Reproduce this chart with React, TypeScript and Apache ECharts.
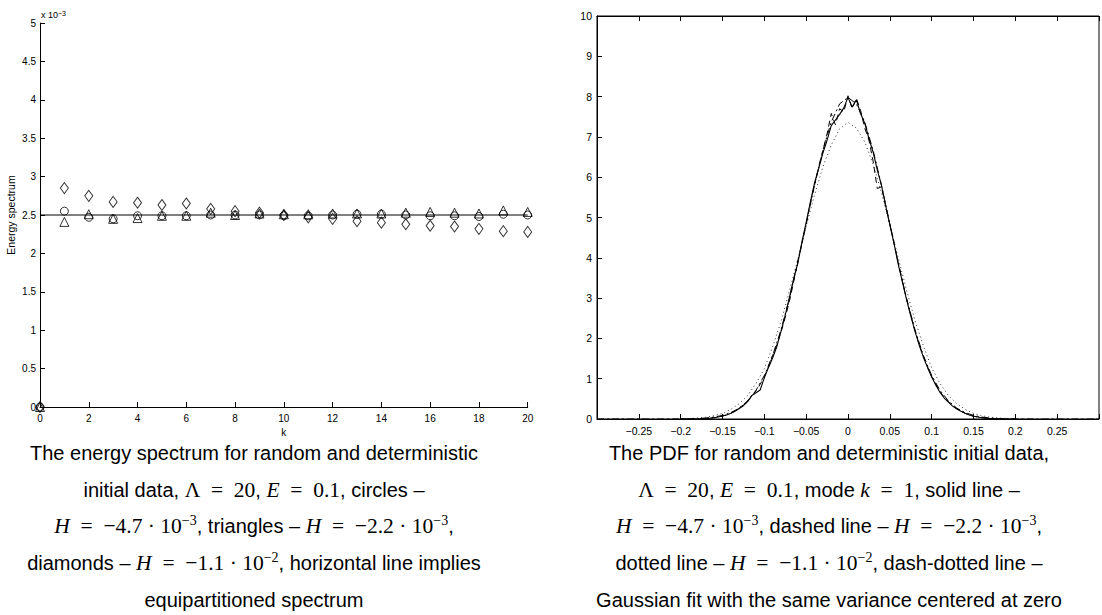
import React, { useEffect, useRef } from "react";
import * as echarts from "echarts";

// ---------- Left chart: energy spectrum (values in units of 1e-3) ----------
const kValues = [0, 1, 2, 3, 4, 5, 6, 7, 8, 9, 10, 11, 12, 13, 14, 15, 16, 17, 18, 19, 20];
const circles = [0, 2.55, 2.47, 2.45, 2.49, 2.49, 2.49, 2.5, 2.5, 2.5, 2.49, 2.49, 2.5, 2.51, 2.51, 2.5, 2.49, 2.49, 2.48, 2.51, 2.5];
const triangles = [0, 2.41, 2.51, 2.45, 2.46, 2.49, 2.49, 2.53, 2.5, 2.52, 2.51, 2.51, 2.52, 2.52, 2.52, 2.53, 2.54, 2.53, 2.52, 2.56, 2.54];
const diamonds = [0, 2.85, 2.75, 2.67, 2.66, 2.63, 2.65, 2.58, 2.55, 2.53, 2.5, 2.47, 2.45, 2.42, 2.4, 2.38, 2.36, 2.35, 2.32, 2.29, 2.28];
const equipartitionLevel = 2.5;
const equipartitionK = [0, 20];

// ---------- Right chart: PDF of mode k = 1 ----------
// fine grid: -0.2 .. 0.2 step 0.005 (81 points)
const solidPdf = [
  0, 0, 0, 0, 0, 0.01, 0.01, 0.02, 0.03, 0.05, 0.08, 0.1, 0.14, 0.19, 0.26, 0.33, 0.43, 0.58, 0.65, 0.72,
  1.02, 1.28, 1.52, 1.8, 2.18, 2.58, 3.02, 3.48, 3.86, 4.4, 4.88, 5.38, 5.86, 6.22, 6.6, 6.92, 7.28, 7.42, 7.56, 7.72,
  7.98,
  7.74, 7.92, 7.58, 7.34, 6.96, 6.62, 6.18, 5.8, 5.3, 4.82, 4.36, 3.84, 3.4, 2.96, 2.56, 2.18, 1.84, 1.54, 1.28, 1.04,
  0.84, 0.66, 0.52, 0.42, 0.32, 0.25, 0.19, 0.14, 0.1, 0.07, 0.05, 0.03, 0.02, 0.01, 0.01, 0, 0, 0, 0, 0,
];
const dashedPdf = [
  0, 0, 0, 0, 0, 0, 0.01, 0.02, 0.03, 0.05, 0.07, 0.1, 0.14, 0.2, 0.27, 0.35, 0.45, 0.56, 0.7, 0.86,
  1.05, 1.3, 1.58, 1.85, 2.16, 2.52, 2.92, 3.4, 3.92, 4.36, 4.84, 5.36, 5.8, 6.26, 6.66, 7.08, 7.58, 7.3, 7.7, 7.62,
  8.02,
  7.7, 7.96, 7.66, 7.22, 6.92, 6.4, 5.72, 5.76, 5.28, 4.84, 4.38, 3.88, 3.42, 2.98, 2.58, 2.2, 1.86, 1.56, 1.3, 1.06,
  0.86, 0.68, 0.54, 0.43, 0.33, 0.26, 0.19, 0.14, 0.1, 0.07, 0.05, 0.03, 0.02, 0.01, 0.01, 0, 0, 0, 0, 0,
];
// coarse grid: -0.3 .. 0.3 step 0.01 (61 points)
const dottedPdf = [
  0, 0, 0, 0, 0, 0, 0, 0, 0,
  0.003, 0.006, 0.012, 0.024, 0.045, 0.08, 0.14, 0.24, 0.38, 0.58, 0.88, 1.25, 1.8, 2.42, 3.18, 3.96, 4.78, 5.56, 6.26, 6.8, 7.2,
  7.36,
  7.22, 6.88, 6.32, 5.62, 4.82, 4.0, 3.2, 2.45, 1.82, 1.27, 0.88, 0.58, 0.38, 0.24, 0.14, 0.08, 0.045, 0.024, 0.012, 0.006, 0.003,
  0, 0, 0, 0, 0, 0, 0, 0, 0,
];
const gaussianFit = [
  0, 0, 0, 0, 0, 0, 0, 0, 0,
  0.001, 0.003, 0.006, 0.012, 0.025, 0.048, 0.089, 0.16, 0.27, 0.45, 0.71, 1.08, 1.58, 2.22, 2.99, 3.88, 4.84, 5.8, 6.67, 7.37, 7.82,
  7.98,
  7.82, 7.37, 6.67, 5.8, 4.84, 3.88, 2.99, 2.22, 1.58, 1.08, 0.71, 0.45, 0.27, 0.16, 0.089, 0.048, 0.025, 0.012, 0.006, 0.003, 0.001,
  0, 0, 0, 0, 0, 0, 0, 0, 0,
];
const fineGrid = { start: -0.2, step: 0.005 };
const coarseGrid = { start: -0.3, step: 0.01 };

// ---------- Captions ----------
const EQ = "\u2002=\u2002";
const leftCaption = [
  "The energy spectrum for random and deterministic",
  `initial data, {m|Λ${EQ}20}, {i|E}{m|${EQ}0.1}, circles –`,
  `{i|H}{m|${EQ}−4.7 · 10}{s|−3}, triangles – {i|H}{m|${EQ}−2.2 · 10}{s|−3},`,
  `diamonds – {i|H}{m|${EQ}−1.1 · 10}{s|−2}, horizontal line implies`,
  "equipartitioned spectrum",
];
const rightCaption = [
  "The PDF for random and deterministic initial data,",
  `{m|Λ${EQ}20}, {i|E}{m|${EQ}0.1}, mode {i|k}{m|${EQ}1}, solid line –`,
  `{i|H}{m|${EQ}−4.7 · 10}{s|−3}, dashed line – {i|H}{m|${EQ}−2.2 · 10}{s|−3},`,
  `dotted line – {i|H}{m|${EQ}−1.1 · 10}{s|−2}, dash-dotted line –`,
  "Gaussian fit with the same variance centered at zero",
];

const toPairs = (ys: number[], g: { start: number; step: number }) =>
  ys.map((y, i) => [+(g.start + i * g.step).toFixed(4), y]);

const SANS = "'Liberation Sans', Arial, sans-serif";
const SERIF = "'Liberation Serif', 'DejaVu Serif', serif";

export default function App() {
  const ref = useRef<HTMLDivElement>(null);
  useEffect(() => {
    if (!ref.current) return;
    const chart = echarts.init(ref.current, undefined, { renderer: "svg" });

    const axisLine = { show: true, onZero: false, lineStyle: { color: "#000", width: 1 } };
    const tick = { show: true, inside: true, length: 5, lineStyle: { color: "#000" } };
    const hollow = (symbol: string, size: any) => ({
      type: "scatter",
      xAxisIndex: 0,
      yAxisIndex: 0,
      symbol,
      symbolSize: size,
      itemStyle: { color: "rgba(0,0,0,0)", borderColor: "#000", borderWidth: 1 },
      z: 3,
    });

    const rich = {
      m: { fontFamily: SERIF, fontSize: 21.5, lineHeight: 26, fill: "#000" },
      i: { fontFamily: SERIF, fontStyle: "italic", fontSize: 21.5, lineHeight: 26, fill: "#000" },
      s: { fontFamily: SERIF, fontSize: 14, lineHeight: 26, verticalAlign: "top", fill: "#000" },
    };
    const captionLines = (lines: string[], cx: number) =>
      lines.map((t, j) => ({
        type: "text",
        x: cx,
        y: 453 + j * 36.7,
        style: {
          text: t,
          rich,
          fontFamily: SANS,
          fontSize: 20,
          fill: "#000",
          textAlign: "center",
          textVerticalAlign: "middle",
        },
      }));

    chart.setOption({
      animation: false,
      backgroundColor: "#fff",
      grid: [
        { left: 40, top: 23, width: 487.7, height: 384 },
        { left: 597, top: 16, width: 510, height: 403, show: true, borderColor: "#000", borderWidth: 1 },
      ],
      xAxis: [
        {
          type: "value", gridIndex: 0, min: 0, max: 20, interval: 2,
          axisLine, axisTick: tick, splitLine: { show: false },
          axisLabel: { fontSize: 10, color: "#000", fontFamily: SANS, margin: 6 },
          name: "k", nameLocation: "middle", nameGap: 19,
          nameTextStyle: { fontSize: 10, color: "#000", fontFamily: SANS },
        },
        {
          type: "value", gridIndex: 1, min: -0.3, max: 0.3, interval: 0.05,
          axisLine, axisTick: tick, splitLine: { show: false },
          axisLabel: {
            fontSize: 10.5, color: "#000", fontFamily: SANS, margin: 6,
            formatter: (v: number) =>
              Math.abs(Math.abs(v) - 0.3) < 1e-9 ? "" : String(+v.toFixed(2)).replace("-", "−"),
          },
        },
        {
          type: "value", gridIndex: 1, min: -0.3, max: 0.3, interval: 0.05, position: "top",
          axisLine, axisTick: tick, splitLine: { show: false }, axisLabel: { show: false },
        },
      ],
      yAxis: [
        {
          type: "value", gridIndex: 0, min: 0, max: 5, interval: 0.5,
          axisLine, axisTick: tick, splitLine: { show: false },
          axisLabel: { fontSize: 10, color: "#000", fontFamily: SANS, margin: 4 },
          name: "Energy spectrum", nameLocation: "middle", nameGap: 24, nameRotate: 90,
          nameTextStyle: { fontSize: 10.5, color: "#000", fontFamily: SANS },
        },
        {
          type: "value", gridIndex: 1, min: 0, max: 10, interval: 1,
          axisLine, axisTick: tick, splitLine: { show: false },
          axisLabel: { fontSize: 10.5, color: "#000", fontFamily: SANS, margin: 5 },
        },
      ],
      series: [
        {
          type: "line", xAxisIndex: 0, yAxisIndex: 0, symbol: "none",
          data: equipartitionK.map((k) => [k, equipartitionLevel]),
          lineStyle: { color: "#000", width: 1 }, z: 2,
        },
        { ...hollow("circle", 8), data: kValues.map((k, i) => [k, circles[i]]) },
        { ...hollow("triangle", 9), data: kValues.map((k, i) => [k, triangles[i]]) },
        { ...hollow("diamond", [8, 11]), data: kValues.map((k, i) => [k, diamonds[i]]) },
        {
          type: "line", xAxisIndex: 1, yAxisIndex: 1, symbol: "none",
          data: toPairs(gaussianFit, coarseGrid),
          lineStyle: { color: "#000", width: 1, type: [7, 3, 2, 3] },
        },
        {
          type: "line", xAxisIndex: 1, yAxisIndex: 1, symbol: "none",
          data: toPairs(dottedPdf, coarseGrid),
          lineStyle: { color: "#333", width: 1, type: [1, 3] },
        },
        {
          type: "line", xAxisIndex: 1, yAxisIndex: 1, symbol: "none",
          data: toPairs(dashedPdf, fineGrid),
          lineStyle: { color: "#000", width: 1, type: [6, 4] },
        },
        {
          type: "line", xAxisIndex: 1, yAxisIndex: 1, symbol: "none",
          data: toPairs(solidPdf, fineGrid),
          lineStyle: { color: "#000", width: 1.1 },
        },
      ],
      graphic: [
        {
          type: "text",
          x: 41,
          y: 10,
          style: {
            text: "x 10{s|−3}",
            fontFamily: SANS,
            fontSize: 9,
            fill: "#000",
            rich: { s: { fontFamily: SANS, fontSize: 7, verticalAlign: "top", fill: "#000" } },
          },
        },
        ...captionLines(leftCaption, 254),
        ...captionLines(rightCaption, 829),
      ],
    });
    return () => chart.dispose();
  }, []);
  return (
    <div
      ref={ref}
      style={{ position: "absolute", left: 0, top: 0, width: 1102, height: 615, background: "#fff" }}
    />
  );
}
